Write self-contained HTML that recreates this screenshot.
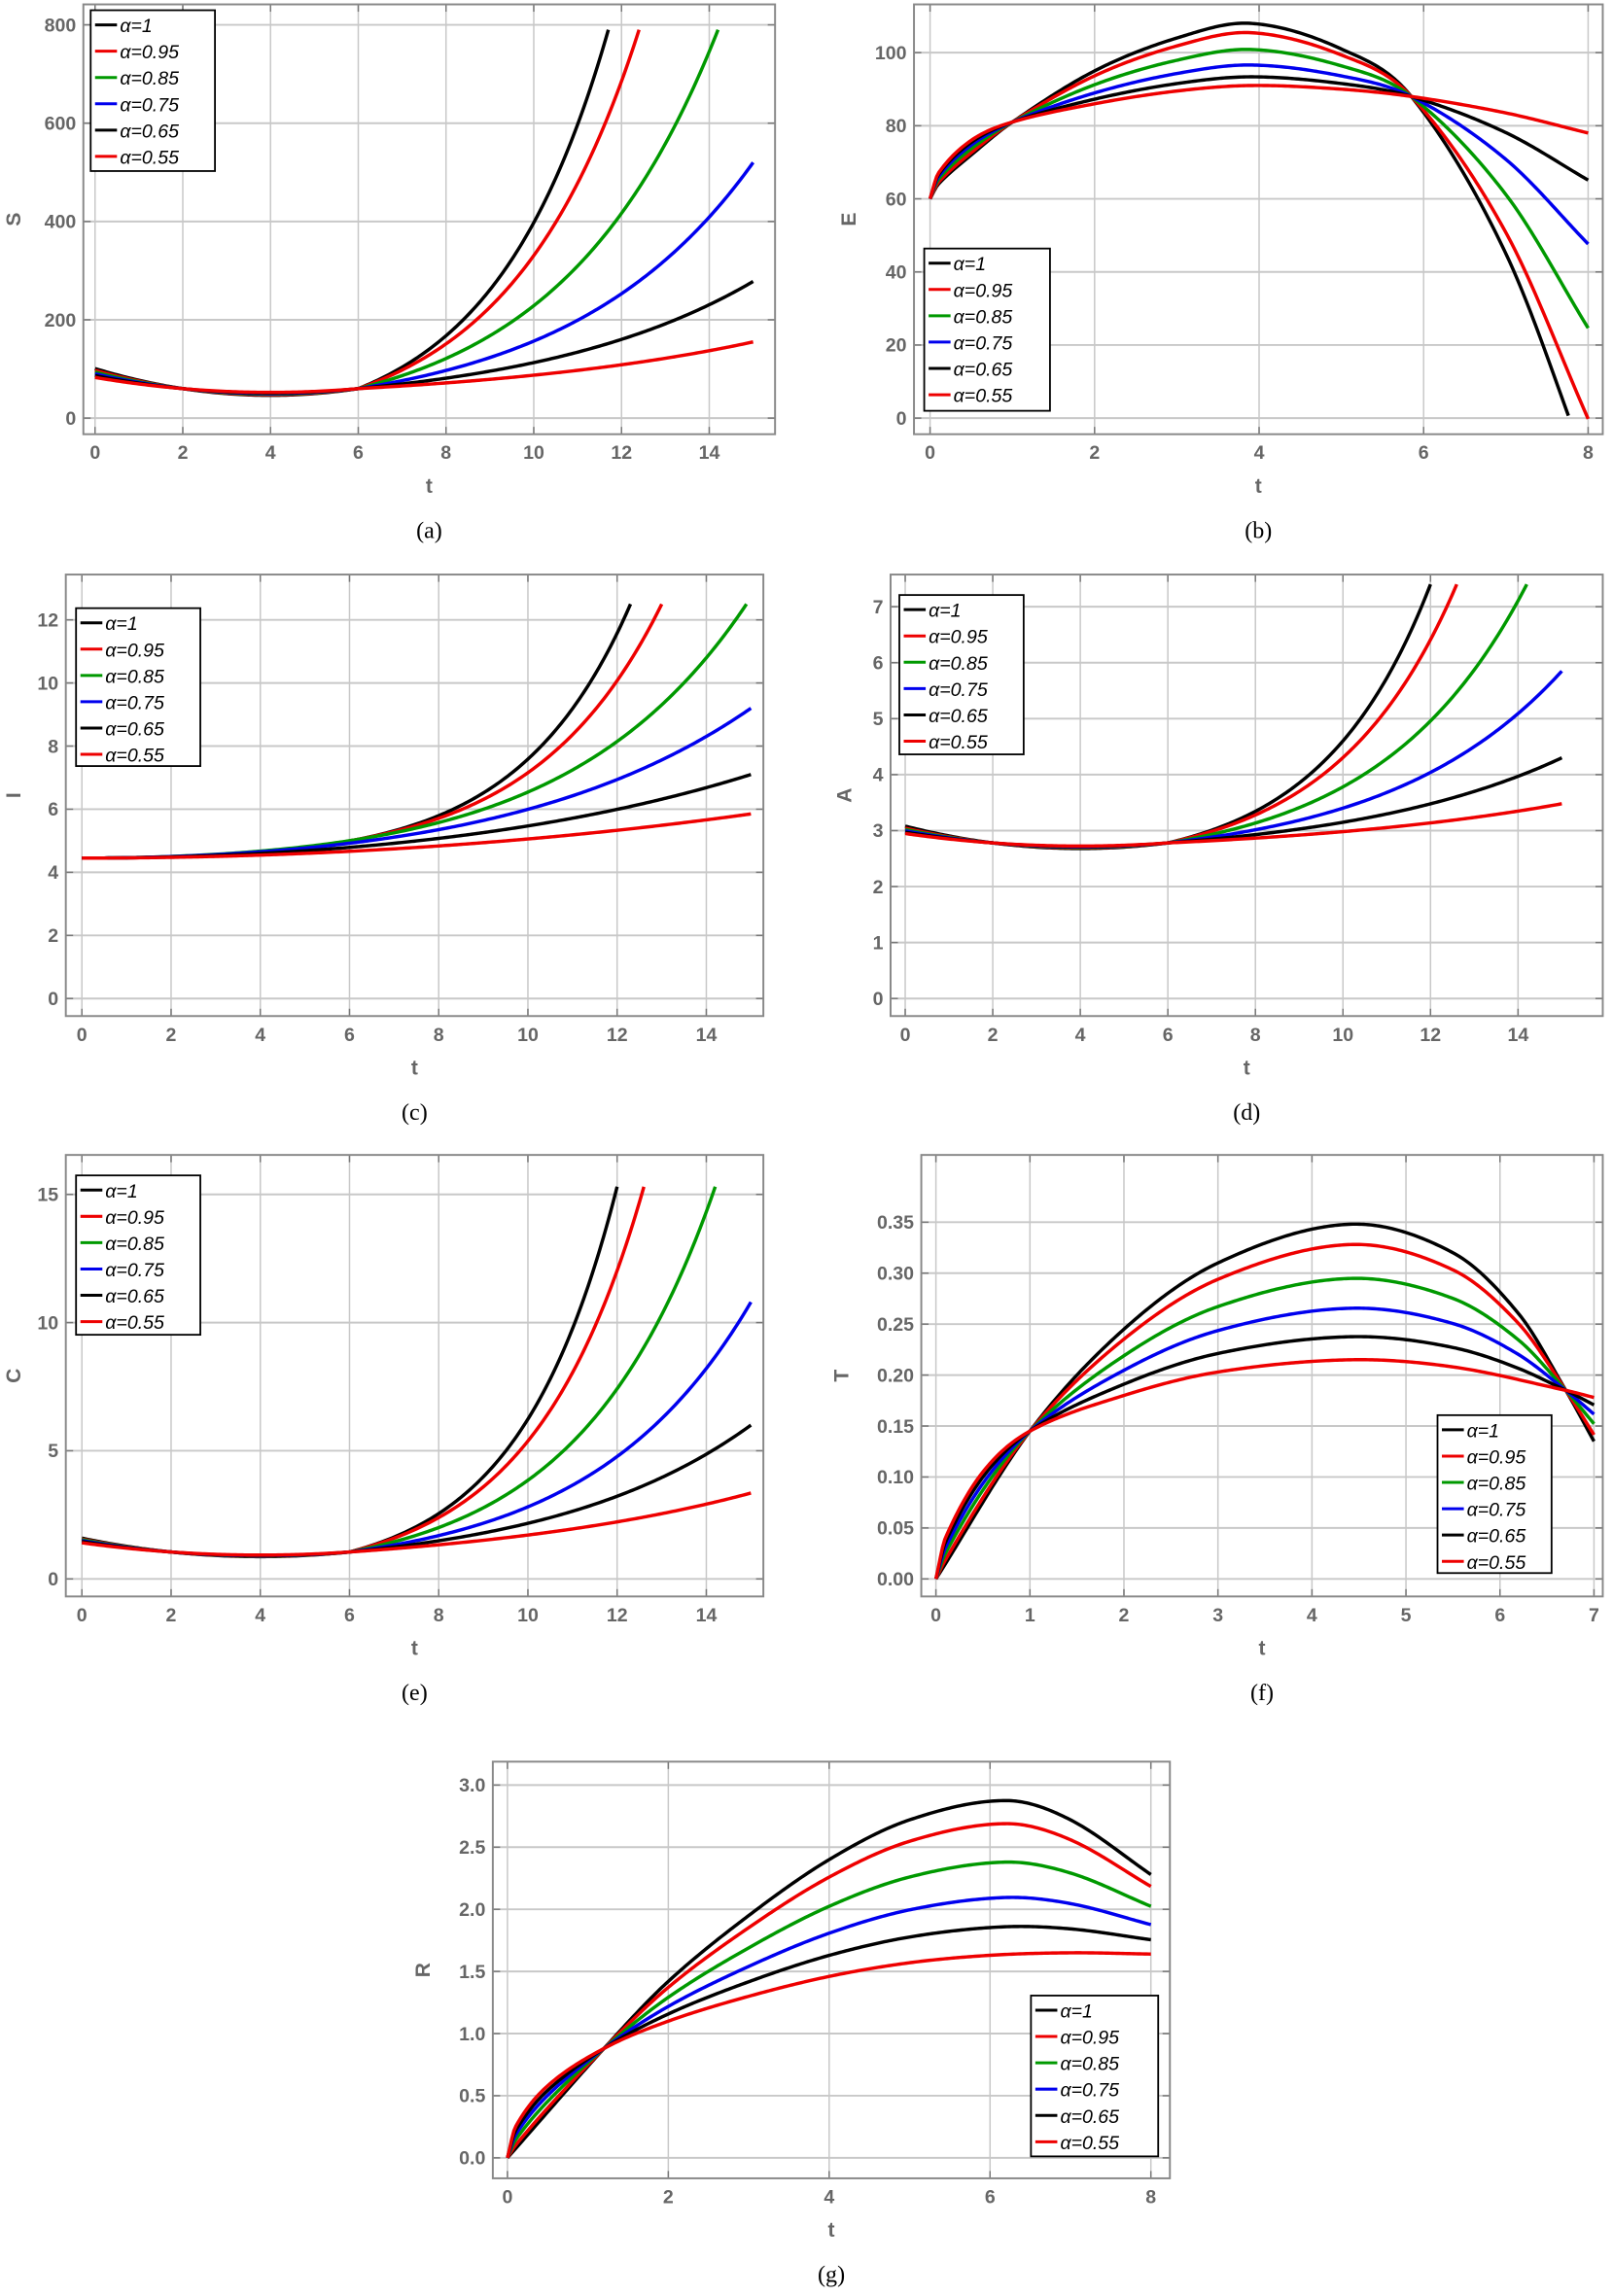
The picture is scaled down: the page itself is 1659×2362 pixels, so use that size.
<!DOCTYPE html>
<html><head><meta charset="utf-8"><style>
html,body{margin:0;padding:0;background:#fff}
svg{display:block}
.tk{font-family:"Liberation Sans Narrow","Liberation Sans",sans-serif;font-weight:bold;font-size:13px;fill:#666}
.ax{font-family:"Liberation Sans",sans-serif;font-weight:bold;font-size:14px;fill:#666}
.cap{font-family:"Liberation Serif",serif;font-size:16px;fill:#000}
.lg{font-family:"Liberation Sans",sans-serif;font-style:italic;font-size:13px;fill:#000}
</style></head><body>
<svg id="s" width="1659" height="2362" viewBox="0 0 1103 1570.5" preserveAspectRatio="none" xmlns="http://www.w3.org/2000/svg"></svg>
<script>
(function(){
var S=document.getElementById('s'),out='';
var COLS=['#000','#e00','#090','#00e','#000','#e00'];
var NAMES=['α=1','α=0.95','α=0.85','α=0.75','α=0.65','α=0.55'];
function herm(K){var n=K.length,m=[];for(var i=0;i<n;i++){var a=K[Math.max(0,i-1)],b=K[Math.min(n-1,i+1)];m.push((b[1]-a[1])/(b[0]-a[0]));}
 return function(t){var i=0;while(i<n-2&&t>K[i+1][0])i++;var t0=K[i][0],t1=K[i+1][0],h=t1-t0,s=(t-t0)/h,s2=s*s,s3=s2*s;
 return (2*s3-3*s2+1)*K[i][1]+(s3-2*s2+s)*h*m[i]+(-2*s3+3*s2)*K[i+1][1]+(s3-s2)*h*m[i+1];};}
function growth(y0,t0,b,tE,yE,k){var a=(yE-y0)/(Math.exp(k*(tE-t0))-1);
 return function(t){return t<t0? y0+b*((t-4)*(t-4)-4): y0+a*(Math.exp(k*(t-t0))-1);};}
function coshg(y0,tE,yE,k){var a=(yE-y0)/(Math.cosh(k*tE)-1);return function(t){return y0+a*(Math.cosh(k*t)-1);};}
function lerpf(L,H,w){return function(t){return L(t)+w*(H(t)-L(t));};}
function panel(P){
 var f=P.frame,X=function(v){return P.x0+(v-P.xa)*(P.x1-P.x0)/(P.xb-P.xa);},Y=function(v){return P.y0+(v-P.ya)*(P.y1-P.y0)/(P.yb-P.ya);};
 out+='<rect x="'+f[0]+'" y="'+f[1]+'" width="'+(f[2]-f[0])+'" height="'+(f[3]-f[1])+'" fill="#fff" stroke="none"/>';
 P.xt.forEach(function(v){var x=X(v);if(x>f[0]+3&&x<f[2]-3)out+='<line x1="'+x+'" y1="'+f[1]+'" x2="'+x+'" y2="'+f[3]+'" stroke="#c8c8c8" stroke-width="1"/>';
  out+='<line x1="'+x+'" y1="'+f[3]+'" x2="'+x+'" y2="'+(f[3]-5)+'" stroke="#777"/><line x1="'+x+'" y1="'+f[1]+'" x2="'+x+'" y2="'+(f[1]+5)+'" stroke="#777"/>';
  out+='<text class="tk" x="'+x+'" y="'+(f[3]+17)+'" text-anchor="middle">'+v+'</text>';});
 P.yt.forEach(function(v){var y=Y(v);if(y>f[1]+3&&y<f[3]-3)out+='<line x1="'+f[0]+'" y1="'+y+'" x2="'+f[2]+'" y2="'+y+'" stroke="#c8c8c8" stroke-width="1.3"/>';
  out+='<line x1="'+f[0]+'" y1="'+y+'" x2="'+(f[0]+5)+'" y2="'+y+'" stroke="#777"/><line x1="'+f[2]+'" y1="'+y+'" x2="'+(f[2]-5)+'" y2="'+y+'" stroke="#777"/>';
  out+='<text class="tk" x="'+(f[0]-5)+'" y="'+(y+4.5)+'" text-anchor="end">'+(P.fmt?v.toFixed(P.fmt):v)+'</text>';});
 out+='<rect x="'+f[0]+'" y="'+f[1]+'" width="'+(f[2]-f[0])+'" height="'+(f[3]-f[1])+'" fill="none" stroke="#888" stroke-width="1.3"/>';
 for(var i=0;i<6;i++){var fn=P.fns[i],d='',tmax=P.tend?P.tend[i]:P.xb;
  for(var j=0;j<=300;j++){var t=P.xa+(tmax-P.xa)*j/300,v=fn(t);if(v>P.vmax||v<P.vmin){break;}d+=(d?'L':'M')+X(t).toFixed(2)+' '+Y(v).toFixed(2);}
  out+='<path d="'+d+'" fill="none" stroke="'+COLS[i]+'" stroke-width="2.3" stroke-linejoin="round"/>';}
 var L=P.leg;out+='<rect x="'+L[0]+'" y="'+L[1]+'" width="'+L[2]+'" height="'+L[3]+'" fill="#fff" stroke="#000" stroke-width="1.2"/>';
 for(var i=0;i<6;i++){var y=L[1]+10+i*18;out+='<line x1="'+(L[0]+3)+'" y1="'+y+'" x2="'+(L[0]+18)+'" y2="'+y+'" stroke="'+COLS[i]+'" stroke-width="2"/>';
  out+='<text class="lg" x="'+(L[0]+20)+'" y="'+(y+5)+'">'+NAMES[i]+'</text>';}
 var cx=(f[0]+f[2])/2+(P.cxo||0);
 out+='<text class="ax" x="'+cx+'" y="'+(f[3]+40)+'" text-anchor="middle">t</text>';
 out+='<text class="ax" transform="translate('+P.ylx+','+((f[1]+f[3])/2)+') rotate(-90)" text-anchor="middle">'+P.yl+'</text>';
 out+='<text class="cap" x="'+cx+'" y="'+(f[3]+71)+'" text-anchor="middle">'+P.cap+'</text>';
}
function rng(a,b,s){var r=[];for(var v=a;v<=b+1e-9;v+=s)r.push(Math.round(v*1000)/1000);return r;}
panel({frame:[57,3,530,297],x0:65,x1:515,xa:0,xb:15,y0:286,y1:17,ya:0,yb:800,xt:rng(0,14,2),yt:rng(0,800,200),vmax:792,vmin:-1e9,
 fns:[growth(60,6,3.4,11.7,790,.38),growth(60,6,3.1,12.4,790,.34),growth(60,6,2.8,14.2,790,.28),growth(60,6,2.5,15,520,.24),growth(60,6,2.2,15,278,.2),growth(60,6,1.9,15,155,.15)],
 leg:[62,7,85,110],yl:'S',ylx:14,cap:'(a)'});
var bH=herm([[0,60],[.1,64],[.5,72],[1,81],[2,95],[3,104],[3.9,108],[5,101],[5.85,88],[7,45],[8,-14]]),
    bL=herm([[0,60],[.1,67],[.5,76],[1,81],[2,86],[3,89.5],[3.9,91],[5,90],[5.85,88],[7,83.5],[8,78]]);
var W1=[1,.85,.58,.33,.14,0];
panel({frame:[625,3,1096,297],x0:636,x1:1086,xa:0,xb:8,y0:286,y1:36,ya:0,yb:100,xt:rng(0,8,2),yt:rng(0,100,20),vmax:1e9,vmin:-0.5,
 fns:W1.map(function(w){return lerpf(bL,bH,w);}),leg:[632,170,86,111],yl:'E',ylx:585,cap:'(b)'});
panel({frame:[45,393,522,695],x0:56,x1:483,xa:0,xb:14,y0:683,y1:424,ya:0,yb:12,xt:rng(0,14,2),yt:rng(0,12,2),vmax:12.55,vmin:-1e9,
 fns:[coshg(4.45,12.3,12.5,.4),coshg(4.45,13,12.5,.35),coshg(4.45,14.9,12.5,.25),coshg(4.45,15,9.2,.18),coshg(4.45,15,7.1,.12),coshg(4.45,15,5.85,.05)],
 tend:[15,15,15,15,15,15],leg:[52,416,85,108],yl:'I',ylx:14,cap:'(c)'});
panel({frame:[609,393,1096,695],x0:619,x1:1068,xa:0,xb:15,y0:683,y1:415,ya:0,yb:7,xt:rng(0,14,2),yt:rng(0,7,1),vmax:7.42,vmin:-1e9,
 fns:[growth(2.78,6,.025,12,7.4,.4),growth(2.78,6,.022,12.6,7.4,.36),growth(2.78,6,.02,14.2,7.4,.3),growth(2.78,6,.018,15,5.85,.25),growth(2.78,6,.016,15,4.3,.2),growth(2.78,6,.014,15,3.48,.15)],
 leg:[615,407,85,109],yl:'A',ylx:582,cap:'(d)'});
panel({frame:[45,790,522,1092],x0:56,x1:483,xa:0,xb:14,y0:1080,y1:817,ya:0,yb:15,xt:rng(0,14,2),yt:rng(0,15,5),vmax:15.35,vmin:-1e9,
 fns:[growth(1.05,6,.045,12,15.3,.45),growth(1.05,6,.042,12.6,15.3,.4),growth(1.05,6,.04,14.2,15.3,.33),growth(1.05,6,.037,15,10.8,.28),growth(1.05,6,.034,15,6,.22),growth(1.05,6,.03,15,3.35,.15)],
 tend:[15,15,15,15,15,15],leg:[52,804,85,109],yl:'C',ylx:14,cap:'(e)'});
var fH=herm([[0,0],[1,.145],[2,.245],[3,.31],[4.4,.348],[5.5,.32],[6.2,.26],[6.7,.185],[7,.135]]),
    fL=herm([[0,0],[.1,.04],[.5,.105],[1,.145],[2,.18],[3,.203],[4.4,.215],[5.5,.208],[6.7,.185],[7,.178]]);
var W2=[1,.85,.6,.38,.17,0];
panel({frame:[630,790,1096,1092],x0:640,x1:1090,xa:0,xb:7,y0:1080,y1:836,ya:0,yb:.35,xt:rng(0,7,1),yt:rng(0,.35,.05),fmt:2,vmax:1e9,vmin:-1,
 fns:W2.map(function(w){return lerpf(fL,fH,w);}),leg:[983,968,78,108],yl:'T',ylx:580,cap:'(f)'});
var gH=herm([[0,0],[1.2,.88],[2,1.42],[3,1.95],[4,2.4],[5,2.72],[6.2,2.875],[7,2.72],[8,2.28]]),
    gL=herm([[0,0],[.1,.25],[.5,.58],[1.2,.88],[2,1.1],[3,1.3],[4,1.46],[5,1.57],[6,1.63],[7,1.65],[8,1.64]]);
var W3=[1,.85,.6,.37,.18,0];
panel({frame:[337,1205,800,1490],x0:347,x1:787,xa:0,xb:8,y0:1476,y1:1221,ya:0,yb:3,xt:rng(0,8,2),yt:rng(0,3,.5),fmt:1,vmax:1e9,vmin:-1,
 fns:W3.map(function(w){return lerpf(gL,gH,w);}),leg:[705,1365,87,110],yl:'R',ylx:294,cap:'(g)'});
S.innerHTML=out;
})();
</script>
</body></html>
